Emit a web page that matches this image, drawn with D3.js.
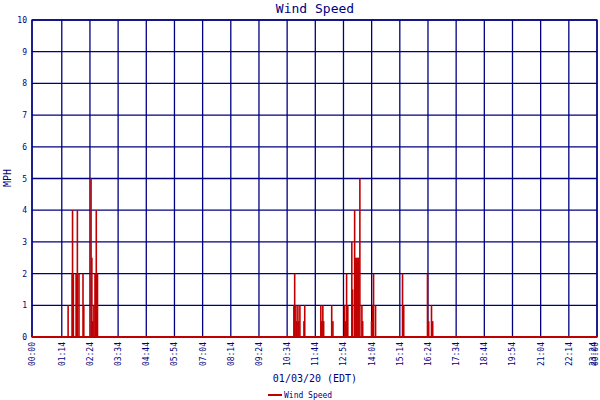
<!DOCTYPE html>
<html><head><meta charset="utf-8">
<script src="https://cdn.jsdelivr.net/npm/d3@7"></script>
<style>body{margin:0;background:#fff}text{font-family:"DejaVu Sans Mono",monospace}</style>
</head><body>
<script>
// sample time (minutes after midnight) and wind speed (mph)
var times = [89,99,100,102,109,110,112,116,126,128,146,148,150,153,156,157,159,162,
  650,652,655,657,660,662,665,675,677,717,719,722,724,744,747,
  776,779,781,784,794,796,801,804,806,809,811,814,819,821,843,846,848,853,920,923,982,985,992,995];
var speeds = [1,2,4,2,2,2,4,2,2,1,5,2.5,0.5,1,2,2,4,2,
  1,2,1,0.5,1,0.5,1,0.5,1,1,0.5,1,0.5,1,0.5,
  1,0.5,2,1,3,1.5,4,2.5,2.5,2.5,2.5,5,1,0.5,0.5,1,2,1,2,1,2,0.5,1,0.5];
var tickMinutes = [0,74,144,214,284,354,424,494,564,634,704,774,844,914,984,1054,1124,1194,1264,1334,1404];
var tickLabels = ["00:00","01:14","02:24","03:34","04:44","05:54","07:04","08:14","09:24","10:34","11:44","12:54","14:04","15:14","16:24","17:34","18:44","19:54","21:04","22:14","23:24"];
var yTicks = [0,1,2,3,4,5,6,7,8,9,10];

var W=600,H=400,blue="#000080",red="#c00000";
var svg=d3.select("body").append("svg").attr("width",W).attr("height",H);
var x=d3.scaleLinear().domain([0,1404]).range([32,597]);
var y=d3.scaleLinear().domain([0,10]).range([337,20]);

// grid
svg.selectAll(".hg").data(yTicks).enter().append("line")
  .attr("x1",32).attr("x2",597).attr("y1",d=>y(d)).attr("y2",d=>y(d))
  .attr("stroke",blue).attr("stroke-width",1.3);
svg.selectAll(".vg").data(tickMinutes).enter().append("line")
  .attr("x1",d=>x(d)).attr("x2",d=>x(d)).attr("y1",20).attr("y2",337)
  .attr("stroke",blue).attr("stroke-width",1.3);
svg.append("rect").attr("x",32).attr("y",20).attr("width",565).attr("height",317)
  .attr("fill","none").attr("stroke",blue).attr("stroke-width",1.3);

// bars
svg.selectAll(".bar").data(times).enter().append("rect")
  .attr("x",d=>x(d)-0.5).attr("width",1.6)
  .attr("y",(d,i)=>y(speeds[i])).attr("height",(d,i)=>y(0)-y(speeds[i]))
  .attr("fill",red);
svg.append("line").attr("x1",32).attr("x2",597).attr("y1",y(0)).attr("y2",y(0))
  .attr("stroke",red).attr("stroke-width",2);

// y labels
svg.selectAll(".yl").data(yTicks).enter().append("text")
  .attr("x",27).attr("y",d=>y(d)+3).attr("text-anchor","end")
  .attr("font-size",8).attr("fill",blue).text(d=>d);
// x labels
svg.selectAll(".xl").data(tickMinutes).enter().append("text")
  .attr("transform",d=>"translate("+Math.min(x(d)+3,596)+",342) rotate(-90)")
  .attr("text-anchor","end").attr("font-size",8).attr("fill",blue)
  .text((d,i)=>tickLabels[i]);
svg.append("text").attr("transform","translate(598,342) rotate(-90)")
  .attr("text-anchor","end").attr("font-size",8).attr("fill",blue).text("00:00");

svg.append("text").attr("x",315).attr("y",13).attr("text-anchor","middle")
  .attr("font-size",13).attr("fill",blue).text("Wind Speed");
svg.append("text").attr("transform","translate(11,178) rotate(-90)")
  .attr("text-anchor","middle").attr("font-size",10).attr("fill",blue).text("MPH");
svg.append("text").attr("x",315).attr("y",382).attr("text-anchor","middle")
  .attr("font-size",10).attr("fill",blue).text("01/03/20 (EDT)");
svg.append("line").attr("x1",268).attr("x2",282).attr("y1",395).attr("y2",395)
  .attr("stroke",red).attr("stroke-width",2);
svg.append("text").attr("x",284).attr("y",398).attr("font-size",8).attr("fill",blue).text("Wind Speed");
</script>
</body></html>
